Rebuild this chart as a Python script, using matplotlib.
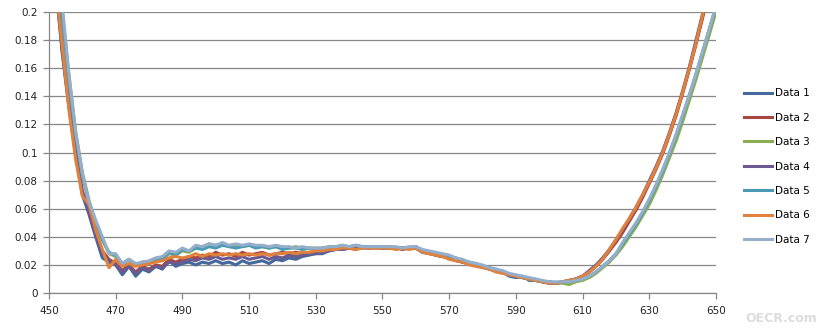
"""
Seven overlaid spectra, 450-650 nm, Excel-style line chart.
"""

import numpy as np
import matplotlib
matplotlib.use("Agg")
import matplotlib.pyplot as plt
from matplotlib.ticker import FuncFormatter

# wavelength (nm), one sample every 2 nm
wavelength = list(range(450, 652, 2))

data_1 = [0.29, 0.22, 0.17, 0.132, 0.098, 0.070, 0.056, 0.040, 0.025, 0.022,
          0.020, 0.013, 0.019, 0.012, 0.017, 0.015, 0.019, 0.017, 0.023, 0.019,
          0.021, 0.022, 0.020, 0.022, 0.021, 0.023, 0.021, 0.022, 0.020, 0.023,
          0.021, 0.022, 0.023, 0.021, 0.024, 0.023, 0.025, 0.024, 0.026, 0.027,
          0.028, 0.028, 0.030, 0.031, 0.031, 0.032, 0.032, 0.033, 0.032, 0.033,
          0.032, 0.033, 0.032, 0.032, 0.032, 0.033, 0.029, 0.029, 0.027, 0.026,
          0.025, 0.023, 0.022, 0.021, 0.020, 0.019, 0.017, 0.016, 0.015, 0.012,
          0.011, 0.012, 0.009, 0.009, 0.008, 0.007, 0.007, 0.008, 0.008, 0.010,
          0.012, 0.015, 0.019, 0.024, 0.030, 0.037, 0.044, 0.052, 0.060, 0.069,
          0.079, 0.089, 0.100, 0.113, 0.127, 0.143, 0.160, 0.178, 0.197, 0.218,
          0.240]

data_2 = [0.30, 0.225, 0.175, 0.135, 0.100, 0.073, 0.058, 0.042, 0.030, 0.024,
          0.021, 0.016, 0.020, 0.015, 0.019, 0.017, 0.020, 0.019, 0.024, 0.022,
          0.024, 0.026, 0.025, 0.027, 0.026, 0.029, 0.027, 0.028, 0.026, 0.029,
          0.027, 0.028, 0.029, 0.027, 0.028, 0.029, 0.028, 0.029, 0.028, 0.029,
          0.029, 0.030, 0.031, 0.031, 0.032, 0.032, 0.031, 0.033, 0.032, 0.032,
          0.032, 0.032, 0.032, 0.031, 0.032, 0.032, 0.029, 0.028, 0.027, 0.026,
          0.025, 0.024, 0.022, 0.021, 0.020, 0.019, 0.018, 0.016, 0.015, 0.013,
          0.012, 0.011, 0.010, 0.009, 0.008, 0.008, 0.007, 0.008, 0.009, 0.010,
          0.012, 0.015, 0.019, 0.024, 0.030, 0.036, 0.043, 0.051, 0.059, 0.068,
          0.078, 0.088, 0.099, 0.112, 0.126, 0.142, 0.159, 0.177, 0.196, 0.216,
          0.238]

data_3 = [0.32, 0.245, 0.200, 0.155, 0.115, 0.086, 0.066, 0.050, 0.038, 0.028,
          0.026, 0.021, 0.024, 0.020, 0.022, 0.021, 0.023, 0.024, 0.028, 0.027,
          0.030, 0.029, 0.032, 0.033, 0.035, 0.034, 0.035, 0.033, 0.034, 0.033,
          0.034, 0.033, 0.033, 0.032, 0.033, 0.032, 0.032, 0.033, 0.032, 0.032,
          0.032, 0.032, 0.033, 0.033, 0.034, 0.033, 0.033, 0.033, 0.033, 0.033,
          0.033, 0.032, 0.032, 0.032, 0.032, 0.033, 0.030, 0.029, 0.028, 0.027,
          0.026, 0.024, 0.023, 0.021, 0.020, 0.019, 0.018, 0.016, 0.015, 0.013,
          0.012, 0.011, 0.010, 0.009, 0.008, 0.008, 0.007, 0.007, 0.006, 0.008,
          0.009, 0.011, 0.014, 0.018, 0.022, 0.027, 0.033, 0.040, 0.047, 0.055,
          0.063, 0.073, 0.084, 0.096, 0.108, 0.122, 0.137, 0.152, 0.168, 0.184,
          0.200]

data_4 = [0.30, 0.22, 0.172, 0.133, 0.099, 0.072, 0.057, 0.041, 0.028, 0.023,
          0.020, 0.015, 0.019, 0.014, 0.018, 0.016, 0.019, 0.018, 0.022, 0.021,
          0.022, 0.024, 0.023, 0.025, 0.024, 0.026, 0.024, 0.025, 0.024, 0.026,
          0.024, 0.025, 0.026, 0.024, 0.026, 0.025, 0.027, 0.026, 0.027, 0.028,
          0.028, 0.029, 0.030, 0.031, 0.031, 0.032, 0.032, 0.032, 0.032, 0.033,
          0.032, 0.032, 0.032, 0.032, 0.032, 0.032, 0.029, 0.029, 0.027, 0.026,
          0.025, 0.024, 0.022, 0.021, 0.020, 0.019, 0.017, 0.016, 0.015, 0.013,
          0.012, 0.011, 0.010, 0.009, 0.008, 0.007, 0.007, 0.008, 0.009, 0.010,
          0.012, 0.016, 0.020, 0.025, 0.031, 0.038, 0.045, 0.053, 0.061, 0.070,
          0.080, 0.090, 0.101, 0.114, 0.128, 0.144, 0.161, 0.180, 0.199, 0.220,
          0.242]

data_5 = [0.31, 0.24, 0.195, 0.150, 0.112, 0.084, 0.064, 0.050, 0.038, 0.029,
          0.027, 0.021, 0.024, 0.020, 0.022, 0.021, 0.023, 0.024, 0.029, 0.027,
          0.031, 0.030, 0.032, 0.031, 0.033, 0.032, 0.034, 0.033, 0.032, 0.033,
          0.034, 0.032, 0.033, 0.032, 0.033, 0.031, 0.032, 0.032, 0.031, 0.032,
          0.031, 0.032, 0.032, 0.033, 0.033, 0.033, 0.034, 0.033, 0.033, 0.033,
          0.033, 0.033, 0.032, 0.032, 0.032, 0.033, 0.030, 0.029, 0.028, 0.027,
          0.026, 0.025, 0.023, 0.022, 0.021, 0.019, 0.018, 0.017, 0.015, 0.013,
          0.012, 0.011, 0.010, 0.009, 0.008, 0.008, 0.007, 0.008, 0.008, 0.009,
          0.010, 0.012, 0.015, 0.019, 0.023, 0.028, 0.035, 0.042, 0.049, 0.057,
          0.066, 0.076, 0.087, 0.099, 0.112, 0.126, 0.141, 0.156, 0.172, 0.188,
          0.204]

data_6 = [0.29, 0.22, 0.175, 0.130, 0.095, 0.069, 0.063, 0.045, 0.031, 0.018,
          0.024, 0.019, 0.021, 0.019, 0.020, 0.021, 0.022, 0.023, 0.025, 0.026,
          0.025, 0.026, 0.028, 0.026, 0.028, 0.027, 0.028, 0.027, 0.028, 0.027,
          0.028, 0.027, 0.028, 0.027, 0.028, 0.028, 0.029, 0.028, 0.029, 0.029,
          0.030, 0.030, 0.031, 0.031, 0.032, 0.032, 0.031, 0.032, 0.032, 0.032,
          0.032, 0.032, 0.031, 0.032, 0.031, 0.032, 0.029, 0.028, 0.027, 0.026,
          0.024, 0.023, 0.022, 0.020, 0.019, 0.018, 0.017, 0.015, 0.014, 0.013,
          0.012, 0.011, 0.010, 0.009, 0.008, 0.007, 0.007, 0.008, 0.009, 0.010,
          0.012, 0.015, 0.019, 0.024, 0.031, 0.038, 0.046, 0.053, 0.061, 0.070,
          0.079, 0.089, 0.100, 0.113, 0.127, 0.143, 0.160, 0.178, 0.198, 0.219,
          0.241]

data_7 = [0.32, 0.25, 0.205, 0.155, 0.115, 0.085, 0.065, 0.052, 0.040, 0.028,
          0.028, 0.021, 0.024, 0.021, 0.022, 0.023, 0.025, 0.026, 0.030, 0.029,
          0.032, 0.030, 0.034, 0.033, 0.035, 0.034, 0.036, 0.034, 0.035, 0.034,
          0.035, 0.034, 0.034, 0.033, 0.034, 0.033, 0.033, 0.032, 0.033, 0.032,
          0.032, 0.032, 0.033, 0.033, 0.034, 0.033, 0.034, 0.033, 0.033, 0.033,
          0.033, 0.033, 0.033, 0.032, 0.033, 0.033, 0.031, 0.030, 0.029, 0.028,
          0.027, 0.025, 0.024, 0.022, 0.021, 0.020, 0.018, 0.017, 0.016, 0.014,
          0.013, 0.012, 0.011, 0.010, 0.009, 0.008, 0.008, 0.008, 0.008, 0.009,
          0.010, 0.012, 0.015, 0.019, 0.023, 0.028, 0.036, 0.043, 0.050, 0.058,
          0.067, 0.077, 0.088, 0.100, 0.113, 0.127, 0.141, 0.156, 0.172, 0.188,
          0.205]

series_names = ["Data 1", "Data 2", "Data 3", "Data 4", "Data 5", "Data 6", "Data 7"]
x_ticks = list(range(450, 651, 20))
y_ticks = [0, 0.02, 0.04, 0.06, 0.08, 0.1, 0.12, 0.14, 0.16, 0.18, 0.2]

colors = ["#44699A", "#A8473F", "#8CAE52", "#6B5990", "#4A9AB3", "#E0823C", "#94AECB"]
GRID = "#878787"
FONT = 7.5


def main():
    series = [data_1, data_2, data_3, data_4, data_5, data_6, data_7]

    fig = plt.figure(figsize=(8.23, 3.33), dpi=100)
    ax = fig.add_axes([0.0595, 0.12, 0.8105, 0.844])

    for name, values, color in zip(series_names, series, colors):
        ax.plot(wavelength, values, color=color, linewidth=2.2, label=name,
                solid_joinstyle="round")

    ax.set_xlim(450, 650)
    ax.set_ylim(0, 0.2)
    ax.set_xticks(x_ticks)
    ax.set_yticks(y_ticks)
    ax.yaxis.set_major_formatter(FuncFormatter(lambda v, p: f"{v:g}"))

    # Excel-like frame: only left/bottom axes, horizontal grid
    for side in ["top", "right"]:
        ax.spines[side].set_visible(False)
    for side in ["left", "bottom"]:
        ax.spines[side].set_color(GRID)
        ax.spines[side].set_linewidth(0.9)
    ax.yaxis.grid(True, color=GRID, linewidth=0.9)
    ax.set_axisbelow(True)
    ax.tick_params(axis="both", direction="out", length=4, width=0.9,
                   color=GRID, labelsize=FONT, labelcolor="#222222")
    ax.tick_params(axis="x", pad=5)
    ax.tick_params(axis="y", pad=4)

    fig.legend(loc="center left", bbox_to_anchor=(0.904, 0.50), frameon=False,
               fontsize=FONT, handlelength=2.7, handletextpad=0.25,
               labelspacing=1.38, borderpad=0, borderaxespad=0)

    fig.text(0.993, 0.025, "OECR.com", ha="right", va="bottom", fontsize=9,
             fontweight="bold", color="#dcdcdc")

    fig.savefig("out.png", dpi=100)
    plt.close(fig)


if __name__ == "__main__":
    main()
